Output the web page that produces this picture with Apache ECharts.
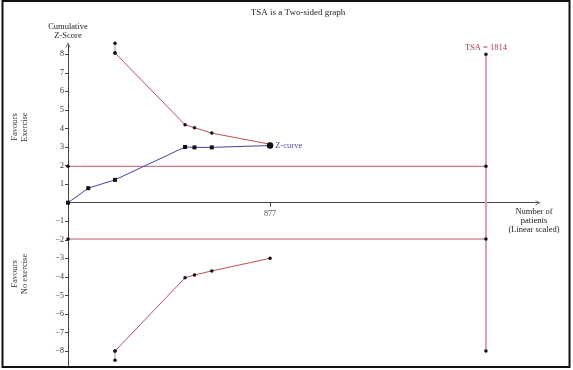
<!DOCTYPE html>
<html>
<head>
<meta charset="utf-8">
<script src="https://cdn.jsdelivr.net/npm/echarts@6/dist/echarts.min.js"></script>
<style>html,body{margin:0;padding:0;background:#fff}#c{width:573px;height:370px}</style>
</head>
<body>
<div id="c"></div>
<script>
// Data
const zcurveX = [0, 88, 204, 508, 549, 624, 877];
const zcurveZ = [0, 0.78, 1.23, 3.0, 2.98, 2.98, 3.08];
const upperX = [204, 508, 549, 624, 877];
const upperZ = [8.07, 4.2, 4.04, 3.75, 3.15];
const lowerX = [204, 508, 549, 624, 877];
const lowerZ = [-8.0, -4.05, -3.9, -3.68, -3.0];
const upperStartZ = [8.6, 8.07];
const lowerStartZ = [-8.0, -8.5];
const boundaryZ = 1.96;
const tsaValue = 1814;
const tsaZ = [8, -8];
const yTickValues = [-8, -7, -6, -5, -4, -3, -2, -1, 1, 2, 3, 4, 5, 6, 7, 8];
const xTickValues = [877];

const FONT = 'Liberation Serif';
const pairs = (xs, ys) => xs.map((x, i) => [x, ys[i]]);

const zData = pairs(zcurveX, zcurveZ).map((p, i, arr) => {
  if (i === arr.length - 1) {
    return {value: p, symbol: 'circle', symbolSize: 6.5,
      label: {show: true, position: 'right', distance: 2, formatter: 'Z-curve',
        color: '#4b4b9c', fontFamily: FONT, fontSize: 8.5}};
  }
  return p;
});

const arrowPath = 'path://M0,10 L5,0 L10,10 L8.6,10 L5,3 L1.4,10 Z';

const chart = echarts.init(document.getElementById('c'), null, {renderer: 'canvas'});
chart.setOption({
  animation: false,
  backgroundColor: '#fff',
  grid: {left: 68, right: 35, top: 45, bottom: 4.1, containLabel: false, outerBoundsMode: 'none'},
  xAxis: {
    type: 'value', min: 0, max: 2040,
    splitLine: {show: false},
    axisLine: {onZero: true, lineStyle: {color: '#444', width: 1},
      symbol: ['none', arrowPath], symbolSize: [8, 5]},
    axisTick: {show: true, customValues: xTickValues, length: 4, lineStyle: {color: '#444'}},
    axisLabel: {show: false}
  },
  yAxis: {
    type: 'value', min: -8.8, max: 8.5,
    splitLine: {show: false},
    name: 'Cumulative\nZ-Score', nameLocation: 'end', nameGap: 5,
    nameTextStyle: {color: '#222', fontFamily: FONT, fontSize: 8.5, align: 'center', verticalAlign: 'bottom', lineHeight: 9},
    axisLine: {show: true, lineStyle: {color: '#444', width: 1},
      symbol: ['none', arrowPath], symbolSize: [8, 5]},
    axisTick: {show: true, customValues: yTickValues, length: 3, lineStyle: {color: '#444'}},
    axisLabel: {show: true, customValues: yTickValues, margin: 4, color: '#333', fontFamily: FONT, fontSize: 8,
      formatter: v => (v < 0 ? '\u2212' + Math.abs(v) : String(v))}
  },
  series: [
    {type: 'scatter', name: 'x tick labels', silent: true, symbolSize: 0, clip: false,
      data: xTickValues.map(v => [v, 0]),
      label: {show: true, position: 'bottom', distance: 7, formatter: p => String(p.value[0]),
        color: '#222', fontFamily: FONT, fontSize: 8}},
    {type: 'line', name: 'upper boundary line', data: [[0, boundaryZ], [tsaValue, boundaryZ]],
      clip: false, symbol: 'circle', symbolSize: 3.5, itemStyle: {color: '#111'},
      lineStyle: {color: '#c05a68', width: 1}, z: 2},
    {type: 'line', name: 'lower boundary line', data: [[0, -boundaryZ], [tsaValue, -boundaryZ]],
      clip: false, symbol: 'circle', symbolSize: 3.5, itemStyle: {color: '#111'},
      lineStyle: {color: '#c05a68', width: 1}, z: 2},
    {type: 'line', name: 'TSA', clip: false, symbol: 'circle', symbolSize: 3.5, itemStyle: {color: '#111'},
      lineStyle: {color: '#d9a2aa', width: 2}, z: 2,
      data: [{value: [tsaValue, tsaZ[0]], label: {show: true, position: 'top', distance: 0,
        formatter: 'TSA = ' + tsaValue, color: '#b0384a', fontFamily: FONT, fontSize: 8.5}},
        [tsaValue, tsaZ[1]]]},
    {type: 'line', name: 'upper start', data: [[upperX[0], upperStartZ[0]], [upperX[0], upperStartZ[1]]],
      clip: false, symbol: 'circle', symbolSize: 3.5, itemStyle: {color: '#111'},
      lineStyle: {color: '#999', width: 1}, z: 3},
    {type: 'line', name: 'lower start', data: [[lowerX[0], lowerStartZ[0]], [lowerX[0], lowerStartZ[1]]],
      clip: false, symbol: 'circle', symbolSize: 3.5, itemStyle: {color: '#111'},
      lineStyle: {color: '#999', width: 1}, z: 3},
    {type: 'line', name: 'upper', data: pairs(upperX, upperZ),
      clip: false, symbol: 'circle', symbolSize: 3.5, itemStyle: {color: '#111'},
      lineStyle: {color: '#bb4f5c', width: 1}, z: 3},
    {type: 'line', name: 'lower', data: pairs(lowerX, lowerZ),
      clip: false, symbol: 'circle', symbolSize: 3.5, itemStyle: {color: '#111'},
      lineStyle: {color: '#bb4f5c', width: 1}, z: 3},
    {type: 'line', name: 'Z-curve', data: zData,
      clip: false, symbol: 'rect', symbolSize: 4, itemStyle: {color: '#111'},
      lineStyle: {color: '#45459a', width: 1}, z: 4}
  ],
  graphic: [
    {type: 'rect', silent: true, z: 100, shape: {x: 2.5, y: 1, width: 567, height: 366},
      style: {fill: 'none', stroke: '#111', lineWidth: 2}},
    {type: 'text', x: 298, y: 13, silent: true,
      style: {text: 'TSA is a Two-sided graph', fill: '#222', font: '9px "Liberation Serif"', align: 'center', verticalAlign: 'middle'}},
    {type: 'text', x: 20, y: 127, rotation: Math.PI / 2, silent: true,
      style: {text: 'Favours\nExercise', fill: '#333', font: '8.5px "Liberation Serif"', align: 'center', verticalAlign: 'middle', lineHeight: 10}},
    {type: 'text', x: 20, y: 274, rotation: Math.PI / 2, silent: true,
      style: {text: 'Favours\nNo exercise', fill: '#333', font: '8.5px "Liberation Serif"', align: 'center', verticalAlign: 'middle', lineHeight: 10}},
    {type: 'text', x: 534, y: 221, silent: true,
      style: {text: 'Number of\npatients\n(Linear scaled)', fill: '#222', font: '8.5px "Liberation Serif"', align: 'center', verticalAlign: 'middle', lineHeight: 9}}
  ]
});
</script>
</body>
</html>
